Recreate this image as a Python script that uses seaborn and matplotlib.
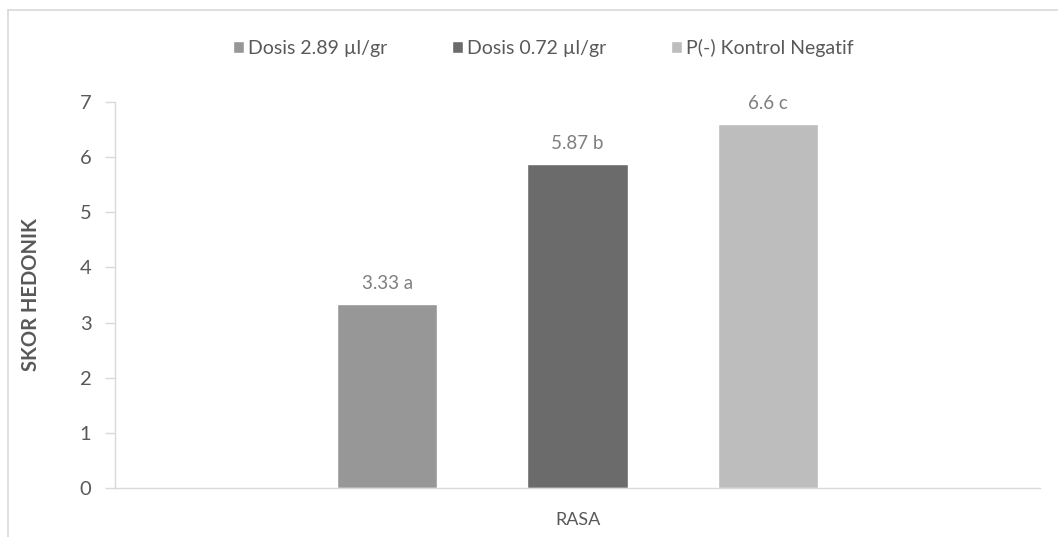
import matplotlib
matplotlib.use("Agg")
import matplotlib.pyplot as plt
from matplotlib.lines import Line2D
import seaborn as sns
import pandas as pd

# Chart data
kategori = ["RASA"]
perlakuan = ["Dosis 2.89 µl/gr", "Dosis 0.72 µl/gr", "P(-) Kontrol Negatif"]
skor = [3.33, 5.87, 6.6]
notasi = ["a", "b", "c"]
warna = ["#979797", "#6b6b6b", "#bdbdbd"]
y_ticks = [0, 1, 2, 3, 4, 5, 6, 7]

df = pd.DataFrame({
    "kategori": kategori * len(perlakuan),
    "perlakuan": perlakuan,
    "skor": skor,
})

sns.set_theme(style="white")
plt.rcParams["font.family"] = ["Lato", "DejaVu Sans"]

fig = plt.figure(figsize=(10.58, 5.37), dpi=100)
ax = fig.add_axes([0.1087, 0.0912, 0.8743, 0.7188])

sns.barplot(
    data=df, x="kategori", y="skor", hue="perlakuan",
    hue_order=perlakuan, palette=warna, width=0.617, gap=0.474,
    saturation=1, errorbar=None, ax=ax, legend=True,
)

ax.set_xlim(-0.5, 0.5)
ax.set_ylim(0, 7)
ax.set_yticks(y_ticks)

# value labels with significance letters
for cont, val, huruf in zip(ax.containers, skor, notasi):
    ax.bar_label(cont, labels=[f"{val:g} {huruf}"], padding=9,
                 fontsize=13.5, color="#7f7f7f")

grey_axis = "#d9d9d9"
for side in ["top", "right"]:
    ax.spines[side].set_visible(False)
ax.spines["left"].set_color(grey_axis)
ax.spines["bottom"].set_color(grey_axis)
ax.spines["left"].set_linewidth(1.0)
ax.spines["bottom"].set_linewidth(1.0)

ax.tick_params(axis="y", which="major", left=True, length=7, width=1,
               color=grey_axis, labelsize=14.5, labelcolor="#595959", pad=10)
ax.tick_params(axis="x", bottom=False, labelsize=13, labelcolor="#595959", pad=11)

ax.set_xlabel("")
ax.set_ylabel("SKOR HEDONIK", fontsize=14.5, color="#595959",
              fontweight="bold")
ax.yaxis.set_label_coords(-0.0795, 0.5)

handles, labels = ax.get_legend_handles_labels()
ax.legend(handles, labels, loc="center", bbox_to_anchor=(0.5137, 0.9106),
          bbox_transform=fig.transFigure, ncol=3, frameon=False,
          fontsize=14, labelcolor="#595959", handlelength=0.55,
          handleheight=0.55, handletextpad=0.25, columnspacing=3.3)

# chart area border (top and left edges)
fig.add_artist(Line2D([8 / 1058, 1.0], [1 - 10 / 537, 1 - 10 / 537],
                      transform=fig.transFigure, color=grey_axis, lw=1.2))
fig.add_artist(Line2D([8 / 1058, 8 / 1058], [0.0, 1 - 10 / 537],
                      transform=fig.transFigure, color=grey_axis, lw=1.2))

fig.savefig("out.png", dpi=100, facecolor="white")
